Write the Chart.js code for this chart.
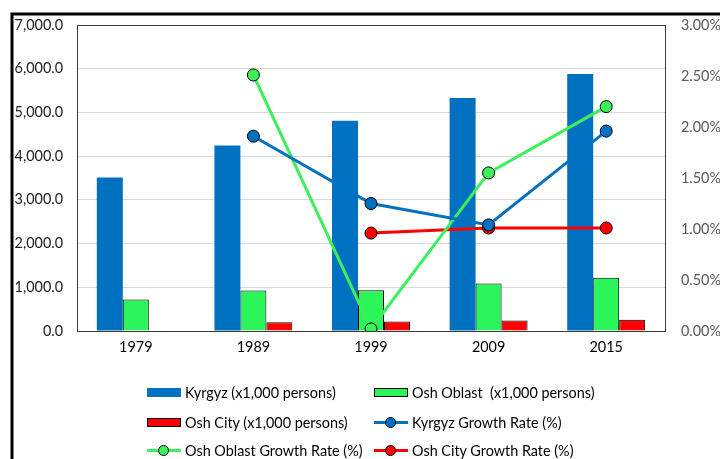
<!DOCTYPE html>
<html>
<head>
<meta charset="utf-8">
<script src="https://cdn.jsdelivr.net/npm/chart.js@4"></script>
<style>
  html, body { margin: 0; padding: 0; background: #fff; overflow: hidden; }
  #wrap { position: relative; width: 720px; height: 459px; }
  #c { position: absolute; left: 0; top: 0; }
  .lg { position: absolute; display: flex; align-items: center; font-family: Lato, "Open Sans", sans-serif; font-size: 14.4px; color: #000; white-space: pre; }
  .mk { position: relative; width: 34px; height: 12px; margin-right: 4px; }
  .bx { position: absolute; left: 0; top: 2px; width: 34px; height: 9px; box-sizing: border-box; }
  .ln { position: absolute; left: 0; top: 5px; width: 34px; height: 3px; }
  .dt { position: absolute; left: 11px; top: 1px; width: 11px; height: 11px; border-radius: 50%; box-sizing: border-box; border: 1px solid #000; }
</style>
</head>
<body>
<div id="wrap">
  <canvas id="c" width="720" height="459"></canvas>
</div>
<script>
// ---- data ----
const categories = ['1979', '1989', '1999', '2009', '2015'];
const kyrgyzPop = [3510, 4245, 4810, 5330, 5880];
const oshOblastPop = [720, 927, 934, 1087, 1217];
const oshCityPop = [null, 201, 217, 240, 256];
const kyrgyzGrowth = [null, 1.91, 1.25, 1.04, 1.96];
const oshOblastGrowth = [null, 2.51, 0.02, 1.55, 2.20];
const oshCityGrowth = [null, null, 0.96, 1.01, 1.01];
const seriesLabels = [
  'Kyrgyz (x1,000 persons)',
  'Osh Oblast  (x1,000 persons)',
  'Osh City (x1,000 persons)',
  'Kyrgyz Growth Rate (%)',
  'Osh Oblast Growth Rate (%)',
  'Osh City Growth Rate (%)'
];

const BLUE = '#0070C0', GREEN = '#2CF55A', LGREEN = '#3CF05A', RED = '#FF0000';
const FONT = 'Lato, "Open Sans", sans-serif';

const frame = {
  id: 'frame',
  beforeDraw(chart) {
    const ctx = chart.ctx;
    ctx.save();
    ctx.strokeStyle = '#000';
    ctx.lineWidth = 3;
    ctx.beginPath();
    ctx.moveTo(12, 470);
    ctx.lineTo(12, 14);
    ctx.lineTo(730, 14);
    ctx.stroke();
    ctx.restore();
  },
  beforeDatasetsDraw(chart) {
    const a = chart.chartArea, ctx = chart.ctx;
    ctx.save();
    ctx.strokeStyle = '#3a3a3a';
    ctx.lineWidth = 1;
    ctx.strokeRect(Math.round(a.left) + 0.5, Math.round(a.top) + 0.5, Math.round(a.right - a.left), Math.round(a.bottom - a.top));
    ctx.restore();
  }
};

const lineDs = (label, data, color) => ({
  type: 'line', label, data, yAxisID: 'y1', order: 0,
  borderColor: color, backgroundColor: color, borderWidth: 3,
  pointRadius: 6, pointHoverRadius: 6, pointBorderColor: '#000', pointBorderWidth: 1,
  pointBackgroundColor: color, tension: 0, spanGaps: false
});

const chart = new Chart(document.getElementById('c'), {
  data: {
    labels: categories,
    datasets: [
      { type: 'bar', label: seriesLabels[0], data: kyrgyzPop, yAxisID: 'y', order: 1,
        backgroundColor: BLUE, borderColor: '#5b9bd5', borderWidth: 0 },
      { type: 'bar', label: seriesLabels[1], data: oshOblastPop, yAxisID: 'y', order: 1,
        backgroundColor: GREEN, borderColor: '#000', borderWidth: 1 },
      { type: 'bar', label: seriesLabels[2], data: oshCityPop, yAxisID: 'y', order: 1,
        backgroundColor: RED, borderColor: '#000', borderWidth: 1 },
      lineDs(seriesLabels[3], kyrgyzGrowth, BLUE),
      lineDs(seriesLabels[4], oshOblastGrowth, LGREEN),
      lineDs(seriesLabels[5], oshCityGrowth, RED)
    ]
  },
  options: {
    responsive: false,
    animation: false,
    devicePixelRatio: 1,
    layout: { padding: { top: 25, left: 0, right: 0, bottom: 0 } },
    datasets: { bar: { categoryPercentage: 0.663, barPercentage: 1.0 } },
    plugins: { legend: { display: false }, tooltip: { enabled: false } },
    scales: {
      x: {
        grid: { display: false, drawTicks: false },
        border: { display: true, color: '#595959', width: 1 },
        ticks: { color: '#000', font: { family: FONT, size: 14.4 }, padding: 8 },
        afterFit(s) { s.height = 128; }
      },
      y: {
        position: 'left', min: 0, max: 7000,
        grid: { color: '#d9d9d9', drawTicks: false, lineWidth: 1 },
        border: { display: true, color: '#3a3a3a' },
        ticks: { stepSize: 1000, color: '#222', font: { family: FONT, size: 14.4 }, padding: 14,
          callback: v => v.toLocaleString('en-US', { minimumFractionDigits: 1, maximumFractionDigits: 1 }) },
        afterFit(s) { s.width = 77; }
      },
      y1: {
        position: 'right', min: 0, max: 3,
        grid: { display: false, drawTicks: false },
        border: { display: true, color: '#3a3a3a' },
        ticks: { stepSize: 0.5, color: '#595959', font: { family: FONT, size: 14.4 }, padding: 16,
          callback: v => v.toFixed(2) + '%' },
        afterFit(s) { s.width = 55; }
      }
    }
  },
  plugins: [frame]
});

// ---- HTML legend built from the chart's datasets (2 columns x 3 rows) ----
const legendCols = [147, 374];
const legendRows = [392, 422, 450];
const wrap = document.getElementById('wrap');
chart.data.datasets.forEach((ds, i) => {
  const el = document.createElement('div');
  el.className = 'lg';
  el.style.left = legendCols[i % 2] + 'px';
  el.style.top = (legendRows[Math.floor(i / 2)] - 9) + 'px';
  el.style.height = '18px';
  const mk = document.createElement('div');
  mk.className = 'mk';
  if (ds.type === 'bar') {
    const b = document.createElement('div');
    b.className = 'bx';
    b.style.background = ds.backgroundColor;
    if (ds.borderWidth) b.style.border = '1px solid #000';
    mk.appendChild(b);
  } else {
    const l = document.createElement('div');
    l.className = 'ln';
    l.style.background = ds.borderColor;
    const d = document.createElement('div');
    d.className = 'dt';
    d.style.background = ds.pointBackgroundColor;
    mk.appendChild(l); mk.appendChild(d);
  }
  const t = document.createElement('span');
  t.textContent = ds.label;
  el.appendChild(mk); el.appendChild(t);
  wrap.appendChild(el);
});
</script>
</body>
</html>
